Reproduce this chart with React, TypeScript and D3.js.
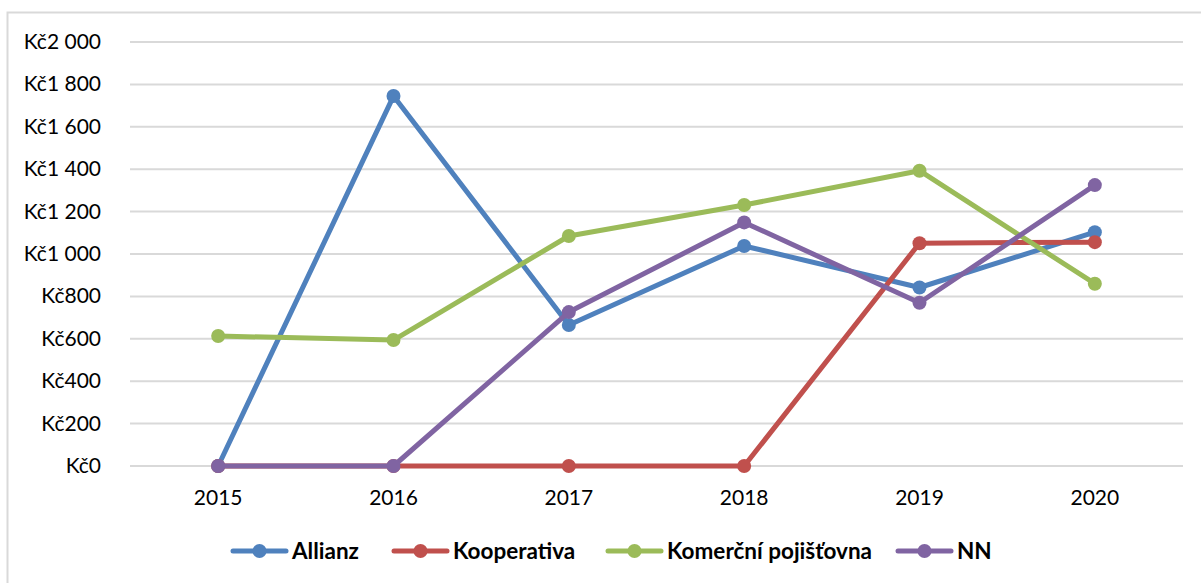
import React from 'react';
import { scaleBand, scaleLinear, line } from 'd3';

const width = 1201;
const height = 583;

const years = ['2015', '2016', '2017', '2018', '2019', '2020'];
const allianz = [0, 1745, 665, 1038, 842, 1103];
const kooperativa = [0, 0, 0, 0, 1051, 1056];
const komercni = [613, 594, 1085, 1231, 1393, 860];
const nn = [0, 0, 726, 1149, 770, 1325];
const yTicks = [0, 200, 400, 600, 800, 1000, 1200, 1400, 1600, 1800, 2000];

const series = [
  { name: 'Allianz', values: allianz, color: '#4F81BD' },
  { name: 'Kooperativa', values: kooperativa, color: '#C0504D' },
  { name: 'Komerční pojišťovna', values: komercni, color: '#9BBB59' },
  { name: 'NN', values: nn, color: '#8064A2' },
];
const legendX = [233, 394, 608, 898];

const x = scaleBand().domain(years).range([130.5, 1182.5]);
const y = scaleLinear().domain([0, 2000]).range([466, 42]);

const fmt = (v: number) => {
  const s = String(v);
  return 'Kč' + (s.length > 3 ? s.slice(0, s.length - 3) + ' ' + s.slice(-3) : s);
};

const App = () => {
  const path = line<number>()
    .x((_, i) => (x(years[i]) as number) + x.bandwidth() / 2)
    .y((d) => y(d));
  return (
    <svg
      width={width}
      height={height}
      style={{ position: 'absolute', left: 0, top: 0, background: '#fff' }}
      fontFamily="Lato, 'Open Sans', sans-serif"
    >
      <rect x={7.5} y={12.5} width={1220} height={620} fill="#fff" stroke="#d9d9d9" strokeWidth={2} />
      {yTicks.map((t) => (
        <g key={t}>
          <line x1={130} x2={1183} y1={y(t)} y2={y(t)} stroke="#d9d9d9" strokeWidth={2} />
          <text x={101} y={y(t) + 7} textAnchor="end" fontSize={21} fill="#000">
            {fmt(t)}
          </text>
        </g>
      ))}
      {years.map((yr) => (
        <text
          key={yr}
          x={(x(yr) as number) + x.bandwidth() / 2}
          y={505}
          textAnchor="middle"
          fontSize={21}
          fill="#000"
        >
          {yr}
        </text>
      ))}
      {series.map((s) => (
        <g key={s.name}>
          <path d={path(s.values) as string} fill="none" stroke={s.color} strokeWidth={5} strokeLinejoin="round" />
          {s.values.map((v, i) => (
            <circle
              key={i}
              cx={(x(years[i]) as number) + x.bandwidth() / 2}
              cy={y(v)}
              r={7}
              fill={s.color}
            />
          ))}
        </g>
      ))}
      {series.map((s, i) => (
        <g key={s.name} transform={`translate(${legendX[i]},551)`}>
          <line x1={0} x2={53} y1={0} y2={0} stroke={s.color} strokeWidth={5} strokeLinecap="round" />
          <circle cx={26.5} cy={0} r={7} fill={s.color} />
          <text x={59} y={8} fontSize={22.5} fontWeight="bold" fill="#000">
            {s.name}
          </text>
        </g>
      ))}
    </svg>
  );
};

export default App;
